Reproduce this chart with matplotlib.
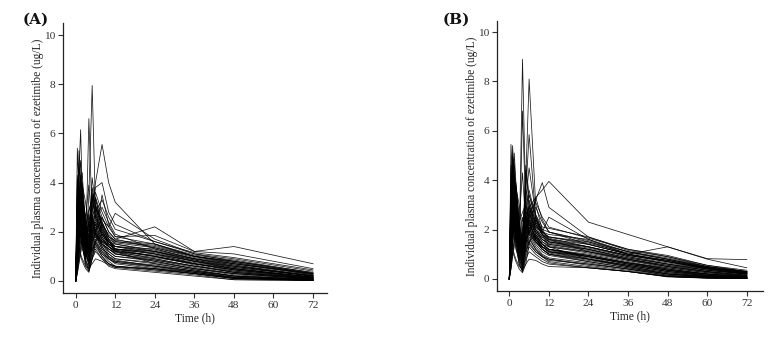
import matplotlib
matplotlib.use("Agg")
import matplotlib.pyplot as plt

times_a = [0, 0.5, 1, 1.5, 2, 3, 4, 5, 6, 8, 10, 12, 24, 36, 48, 72]
conc_a = [
    [0, 1.2, 2.5, 2.0, 1.6, 1.1, 3.5, 7.95, 3.0, 2.2, 1.6, 1.3, 1.0, 0.7, 0.45, 0.15],
    [0, 0.8, 1.9, 2.2, 1.8, 1.0, 6.6, 2.5, 1.9, 1.6, 1.4, 1.2, 0.9, 0.6, 0.35, 0.1],
    [0, 2.8, 4.5, 6.15, 3.5, 1.5, 2.4, 2.0, 1.8, 1.5, 1.3, 1.1, 0.8, 0.5, 0.3, 0.08],
    [0, 5.4, 3.6, 2.4, 1.7, 1.0, 2.8, 3.4, 2.6, 1.9, 1.5, 1.3, 1.2, 0.8, 0.55, 0.2],
    [0, 0.6, 1.2, 1.6, 1.8, 1.2, 2.0, 3.0, 4.0, 5.55, 4.0, 3.2, 1.5, 1.0, 0.7, 0.3],
    [0, 3.0, 5.3, 4.2, 3.0, 1.6, 2.2, 2.6, 2.0, 1.6, 1.5, 1.4, 1.1, 0.7, 0.4, 0.12],
    [0, 1.5, 2.8, 3.8, 4.4, 2.0, 1.5, 2.8, 3.4, 2.6, 2.0, 1.7, 2.2, 1.2, 1.4, 0.7],
    [0, 1.0, 2.2, 3.0, 3.5, 2.3, 2.0, 3.2, 3.6, 2.8, 2.2, 1.8, 1.85, 1.2, 1.1, 0.5],
    [0, 0.9, 1.8, 2.6, 3.0, 1.6, 1.3, 2.4, 2.9, 2.5, 2.2, 2.75, 1.7, 1.1, 0.8, 0.35],
    [0, 1.2, 2.6, 3.4, 3.0, 1.8, 2.4, 3.2, 3.8, 4.0, 2.8, 2.3, 1.6, 1.1, 0.9, 0.4],
    [0, 0.4, 1.2, 2.0, 2.6, 1.4, 0.9, 1.8, 2.2, 1.6, 1.2, 1.0, 0.8, 0.5, 0.3, 0.08],
    [0, 2.2, 3.6, 3.0, 2.4, 1.2, 0.7, 1.5, 2.0, 1.4, 1.0, 0.85, 0.6, 0.35, 0.15, 0.04],
    [0, 1.6, 2.9, 4.1, 3.2, 1.9, 1.1, 2.3, 2.7, 2.0, 1.6, 1.4, 1.3, 0.9, 0.7, 0.25],
    [0, 0.9, 1.5, 1.9, 2.1, 1.5, 1.0, 1.3, 1.6, 1.2, 0.9, 0.7, 0.5, 0.3, 0.1, 0.03],
    [0, 3.2, 4.6, 3.9, 2.8, 1.3, 0.8, 1.9, 2.6, 1.8, 1.4, 1.2, 1.0, 0.7, 0.45, 0.12],
    [0, 0.7, 1.9, 2.8, 3.3, 2.6, 1.7, 2.9, 3.4, 2.1, 1.5, 1.3, 1.1, 0.8, 0.6, 0.2],
    [0, 1.9, 3.3, 2.7, 2.0, 0.9, 0.5, 1.2, 1.6, 1.1, 0.8, 0.6, 0.45, 0.3, 0.12, 0.03],
    [0, 2.5, 3.9, 4.3, 3.6, 2.2, 1.6, 2.6, 3.0, 2.3, 1.9, 1.6, 1.4, 1.0, 0.75, 0.3],
    [0, 1.1, 2.4, 3.1, 2.5, 1.6, 1.2, 3.5, 2.9, 2.0, 1.6, 1.3, 1.15, 0.8, 0.5, 0.15],
    [0, 0.5, 0.9, 1.4, 1.9, 1.3, 0.6, 1.1, 1.5, 1.0, 0.7, 0.55, 0.4, 0.25, 0.05, 0.02],
    [0, 2.9, 4.0, 3.3, 2.6, 1.7, 1.4, 2.1, 2.5, 1.9, 1.6, 1.5, 1.2, 0.85, 0.6, 0.22],
    [0, 1.4, 2.1, 2.5, 2.2, 1.4, 1.9, 4.2, 3.1, 2.4, 1.8, 1.5, 1.25, 0.9, 0.65, 0.18],
    [0, 3.8, 4.2, 3.0, 2.2, 1.1, 0.8, 1.6, 1.9, 1.3, 1.1, 0.9, 0.7, 0.45, 0.2, 0.06],
    [0, 0.8, 1.6, 2.3, 2.9, 2.1, 1.3, 2.0, 2.4, 1.8, 1.4, 1.1, 0.9, 0.6, 0.35, 0.1],
    [0, 2.0, 3.0, 3.5, 2.9, 1.8, 1.5, 3.0, 3.3, 2.4, 1.8, 1.6, 1.45, 1.0, 0.8, 0.3],
    [0, 1.3, 2.7, 2.2, 1.7, 0.8, 0.4, 0.9, 1.3, 0.9, 0.6, 0.5, 0.35, 0.2, 0.05, 0.02],
    [0, 4.1, 3.4, 2.6, 1.9, 1.2, 1.0, 2.5, 2.1, 1.7, 1.4, 1.2, 1.05, 0.75, 0.5, 0.14],
    [0, 0.6, 1.4, 2.1, 2.5, 1.9, 1.1, 1.7, 2.1, 1.5, 1.1, 0.9, 0.75, 0.5, 0.25, 0.06],
    [0, 2.4, 3.4, 3.7, 3.1, 1.9, 1.3, 2.2, 2.8, 2.1, 1.7, 1.55, 1.35, 0.95, 0.7, 0.28],
    [0, 1.7, 2.6, 2.0, 1.5, 0.7, 0.5, 1.0, 1.4, 1.0, 0.7, 0.6, 0.5, 0.3, 0.1, 0.03],
    [0, 0.3, 0.8, 1.3, 1.7, 1.6, 1.2, 1.8, 2.3, 1.7, 1.3, 1.1, 0.85, 0.55, 0.3, 0.08],
    [0, 3.5, 4.8, 4.0, 3.0, 1.7, 1.2, 2.0, 2.4, 1.9, 1.5, 1.3, 1.1, 0.8, 0.5, 0.15],
    [0, 1.2, 2.0, 2.7, 2.4, 1.5, 1.0, 3.8, 3.0, 2.2, 1.7, 1.4, 1.2, 0.85, 0.55, 0.2],
    [0, 2.1, 2.9, 2.4, 1.8, 1.0, 0.7, 1.4, 1.8, 1.3, 0.95, 0.8, 0.65, 0.4, 0.15, 0.04],
    [0, 0.9, 2.0, 3.0, 3.6, 2.4, 1.6, 2.3, 2.7, 2.0, 1.6, 1.4, 1.2, 0.9, 0.65, 0.22],
    [0, 1.5, 2.3, 1.9, 1.4, 0.8, 0.6, 1.3, 1.7, 1.2, 0.9, 0.75, 0.55, 0.35, 0.12, 0.03],
    [0, 2.7, 3.8, 3.2, 2.5, 1.4, 1.0, 1.9, 2.3, 1.7, 1.4, 1.25, 1.0, 0.7, 0.45, 0.13],
    [0, 0.5, 1.1, 1.7, 2.2, 1.8, 1.4, 2.6, 3.1, 2.3, 1.8, 1.65, 1.5, 1.05, 0.85, 0.33],
    [0, 1.8, 3.1, 3.6, 3.0, 1.6, 0.9, 1.7, 2.0, 1.5, 1.2, 1.0, 0.85, 0.6, 0.4, 0.1],
    [0, 1.0, 1.7, 2.2, 1.9, 1.1, 0.8, 1.5, 1.9, 1.4, 1.0, 0.8, 0.6, 0.4, 0.2, 0.05],
    [0, 0.3, 0.7, 1.1, 1.5, 2.2, 2.9, 3.3, 2.6, 3.0, 2.4, 1.9, 1.3, 0.9, 0.6, 0.2],
    [0, 4.3, 3.0, 2.1, 1.5, 0.6, 0.4, 0.9, 1.2, 0.9, 0.7, 0.6, 0.45, 0.3, 0.1, 0.02],
    [0, 1.9, 3.6, 4.0, 3.3, 2.6, 3.9, 2.2, 1.9, 3.5, 2.3, 1.8, 1.5, 1.0, 0.75, 0.25],
    [0, 0.8, 1.3, 1.0, 0.8, 0.5, 0.35, 0.9, 1.6, 2.3, 1.7, 1.2, 0.7, 0.45, 0.2, 0.05],
    [0, 2.6, 4.1, 4.9, 3.7, 2.1, 1.4, 1.2, 1.6, 1.9, 1.5, 1.25, 1.0, 0.65, 0.35, 0.1],
    [0, 1.1, 2.3, 3.3, 2.0, 0.9, 1.6, 3.6, 2.8, 3.3, 2.6, 2.1, 1.6, 1.15, 0.95, 0.45],
    [0, 3.1, 2.4, 1.8, 1.3, 0.9, 2.7, 1.8, 1.5, 1.1, 0.9, 0.75, 0.6, 0.4, 0.2, 0.05],
    [0, 0.6, 1.8, 3.0, 3.9, 3.2, 2.1, 1.6, 2.0, 2.6, 2.0, 1.7, 1.35, 1.0, 0.8, 0.3],
    [0, 2.0, 1.4, 1.1, 0.9, 0.6, 0.5, 0.7, 0.9, 0.8, 0.65, 0.55, 0.5, 0.35, 0.15, 0.03],
    [0, 1.4, 3.0, 2.5, 4.0, 2.3, 1.2, 2.6, 1.9, 1.5, 1.3, 1.15, 0.95, 0.7, 0.5, 0.16],
]

times_b = [0, 0.5, 1, 1.5, 2, 3, 4, 5, 6, 8, 10, 12, 24, 36, 48, 60, 72]
conc_b = [
    [0, 1.0, 2.2, 2.8, 2.0, 1.2, 8.9, 3.0, 2.2, 1.7, 1.4, 1.2, 0.9, 0.6, 0.35, 0.2, 0.1],
    [0, 0.7, 1.5, 2.0, 1.8, 1.0, 1.4, 4.0, 8.1, 3.0, 2.0, 1.6, 1.1, 0.75, 0.45, 0.25, 0.12],
    [0, 1.2, 2.5, 3.0, 2.4, 1.3, 2.0, 3.5, 5.85, 2.5, 1.8, 1.5, 1.2, 0.8, 0.5, 0.3, 0.15],
    [0, 2.0, 3.2, 2.6, 1.8, 0.9, 6.8, 2.6, 1.9, 1.5, 1.2, 1.0, 0.8, 0.55, 0.3, 0.15, 0.06],
    [0, 5.45, 4.0, 3.0, 2.2, 1.2, 1.8, 2.6, 2.2, 1.7, 1.4, 1.3, 1.1, 0.8, 0.55, 0.35, 0.2],
    [0, 3.1, 5.4, 4.2, 3.0, 1.5, 1.2, 2.0, 2.4, 1.9, 1.6, 1.4, 1.2, 0.85, 0.6, 0.4, 0.22],
    [0, 2.0, 3.8, 5.1, 3.9, 2.2, 1.5, 2.6, 3.0, 2.2, 1.8, 1.6, 1.3, 0.95, 0.7, 0.45, 0.25],
    [0, 0.9, 1.8, 2.4, 2.7, 1.8, 1.5, 2.4, 2.9, 3.3, 3.6, 3.95, 2.3, 1.8, 1.3, 0.82, 0.78],
    [0, 1.1, 2.3, 3.0, 2.6, 1.5, 1.1, 2.0, 2.6, 3.2, 3.9, 2.9, 1.7, 1.2, 0.9, 0.55, 0.3],
    [0, 1.5, 2.6, 3.2, 2.8, 1.7, 1.3, 2.2, 2.6, 2.1, 1.9, 2.5, 1.6, 1.0, 1.3, 0.8, 0.45],
    [0, 2.4, 3.6, 3.0, 2.2, 1.0, 0.5, 1.8, 2.4, 1.6, 1.3, 1.1, 0.8, 0.5, 0.25, 0.1, 0.04],
    [0, 0.8, 1.9, 2.7, 3.3, 2.0, 0.8, 3.2, 4.5, 2.6, 1.9, 1.7, 1.4, 1.0, 0.75, 0.45, 0.25],
    [0, 3.8, 4.6, 3.5, 2.5, 1.1, 0.6, 1.4, 2.0, 1.5, 1.2, 1.0, 0.7, 0.45, 0.2, 0.08, 0.03],
    [0, 1.3, 2.2, 1.8, 1.3, 0.6, 0.3, 1.0, 1.5, 1.1, 0.9, 0.8, 0.55, 0.35, 0.12, 0.05, 0.02],
    [0, 2.9, 4.3, 3.7, 2.8, 1.6, 1.0, 2.5, 3.2, 2.3, 1.8, 1.55, 1.3, 0.9, 0.6, 0.35, 0.18],
    [0, 0.6, 1.3, 2.0, 2.5, 1.6, 0.9, 1.9, 2.5, 1.8, 1.4, 1.2, 0.95, 0.65, 0.4, 0.2, 0.08],
    [0, 4.3, 5.0, 3.9, 2.7, 1.4, 0.8, 2.0, 2.6, 2.0, 1.6, 1.4, 1.15, 0.8, 0.5, 0.3, 0.14],
    [0, 1.7, 3.0, 3.6, 3.0, 1.8, 1.2, 4.6, 3.4, 2.4, 1.9, 1.7, 1.5, 1.1, 0.85, 0.5, 0.28],
    [0, 2.2, 2.9, 2.3, 1.7, 0.8, 0.4, 1.2, 1.7, 1.2, 0.95, 0.8, 0.6, 0.4, 0.15, 0.06, 0.03],
    [0, 1.0, 2.4, 3.3, 3.9, 2.5, 1.4, 2.6, 2.9, 2.0, 1.6, 1.45, 1.2, 0.85, 0.6, 0.35, 0.2],
    [0, 3.3, 4.0, 3.1, 2.2, 1.2, 0.7, 1.6, 2.2, 1.7, 1.3, 1.1, 0.85, 0.55, 0.3, 0.12, 0.05],
    [0, 0.5, 1.1, 1.6, 2.0, 1.5, 0.8, 1.5, 2.1, 1.5, 1.2, 1.0, 0.75, 0.5, 0.25, 0.1, 0.04],
    [0, 2.6, 3.5, 4.2, 3.4, 2.0, 1.5, 3.6, 3.1, 2.3, 1.9, 1.8, 1.6, 1.1, 0.8, 0.45, 0.3],
    [0, 1.5, 2.6, 2.1, 1.5, 0.7, 0.35, 0.9, 1.3, 1.0, 0.8, 0.65, 0.45, 0.3, 0.08, 0.03, 0.02],
    [0, 3.0, 4.8, 4.1, 3.1, 1.7, 1.1, 2.3, 2.8, 2.1, 1.7, 1.5, 1.25, 0.9, 0.65, 0.4, 0.2],
    [0, 0.9, 1.6, 2.2, 2.6, 1.9, 1.2, 2.8, 3.6, 2.5, 2.0, 1.9, 1.5, 1.0, 0.7, 0.42, 0.22],
    [0, 4.0, 3.3, 2.5, 1.8, 1.0, 0.6, 1.5, 1.9, 1.4, 1.1, 0.95, 0.7, 0.45, 0.2, 0.08, 0.03],
    [0, 1.9, 3.4, 2.9, 2.3, 1.3, 0.9, 2.0, 2.5, 1.9, 1.5, 1.3, 1.05, 0.75, 0.5, 0.28, 0.12],
    [0, 2.5, 3.1, 2.6, 2.0, 1.1, 0.7, 1.7, 2.3, 1.6, 1.3, 1.2, 1.0, 0.7, 0.4, 0.2, 0.08],
    [0, 1.2, 2.0, 2.7, 3.1, 2.2, 1.6, 3.0, 3.4, 2.6, 2.1, 2.05, 1.7, 1.15, 0.9, 0.5, 0.3],
    [0, 3.6, 4.4, 3.4, 2.4, 1.3, 0.9, 1.9, 2.4, 1.8, 1.4, 1.2, 0.9, 0.6, 0.35, 0.15, 0.06],
    [0, 0.7, 1.7, 2.4, 2.9, 2.0, 1.0, 2.2, 2.7, 1.9, 1.5, 1.35, 1.1, 0.8, 0.55, 0.3, 0.15],
    [0, 2.1, 3.0, 2.5, 1.9, 0.9, 0.5, 1.3, 1.8, 1.3, 1.0, 0.85, 0.65, 0.4, 0.15, 0.05, 0.02],
    [0, 1.4, 2.8, 3.5, 2.8, 1.6, 1.3, 4.4, 3.0, 2.2, 1.8, 1.6, 1.4, 1.0, 0.75, 0.45, 0.24],
    [0, 2.8, 3.7, 3.0, 2.1, 1.0, 0.6, 1.4, 2.0, 1.6, 1.3, 1.1, 0.95, 0.65, 0.4, 0.2, 0.07],
    [0, 0.4, 1.0, 1.5, 1.9, 1.7, 1.1, 1.8, 2.3, 1.7, 1.3, 1.15, 0.9, 0.6, 0.35, 0.18, 0.06],
    [0, 3.4, 4.9, 4.5, 3.3, 1.8, 1.0, 2.1, 2.7, 2.0, 1.7, 1.5, 1.3, 0.95, 0.7, 0.42, 0.26],
    [0, 1.6, 2.4, 2.0, 1.6, 0.8, 0.45, 1.1, 1.6, 1.2, 0.9, 0.7, 0.5, 0.3, 0.1, 0.04, 0.02],
    [0, 2.3, 3.3, 3.8, 3.0, 1.7, 1.2, 2.4, 2.9, 2.2, 1.8, 1.7, 1.45, 1.05, 0.8, 0.48, 0.3],
    [0, 1.1, 2.1, 2.6, 2.2, 1.3, 0.7, 1.6, 2.1, 1.6, 1.2, 1.05, 0.8, 0.55, 0.3, 0.12, 0.05],
    [0, 0.4, 0.9, 1.3, 1.7, 2.3, 2.7, 3.0, 2.5, 2.9, 2.3, 1.9, 1.4, 1.0, 0.7, 0.4, 0.2],
    [0, 4.6, 3.3, 2.2, 1.5, 0.6, 0.3, 0.8, 1.1, 0.9, 0.7, 0.6, 0.45, 0.3, 0.1, 0.03, 0.02],
    [0, 1.8, 3.4, 3.9, 3.2, 2.4, 4.3, 2.1, 1.8, 3.3, 2.4, 1.9, 1.55, 1.1, 0.8, 0.5, 0.28],
    [0, 0.7, 1.1, 0.9, 0.7, 0.4, 0.25, 0.6, 1.4, 2.4, 1.8, 1.3, 0.8, 0.5, 0.2, 0.08, 0.03],
    [0, 2.5, 4.0, 4.7, 3.6, 2.0, 1.3, 1.1, 1.5, 1.8, 1.4, 1.2, 0.95, 0.65, 0.35, 0.15, 0.06],
    [0, 1.0, 2.2, 3.1, 1.9, 0.8, 1.5, 3.4, 2.7, 3.1, 2.5, 2.1, 1.65, 1.2, 0.95, 0.55, 0.35],
    [0, 3.0, 2.3, 1.7, 1.2, 0.8, 2.5, 1.7, 1.4, 1.1, 0.9, 0.75, 0.6, 0.4, 0.2, 0.08, 0.03],
    [0, 0.5, 1.6, 2.8, 3.7, 3.0, 2.0, 1.5, 1.9, 2.5, 1.9, 1.65, 1.3, 0.95, 0.75, 0.45, 0.25],
    [0, 1.9, 1.3, 1.0, 0.8, 0.5, 0.4, 0.6, 0.8, 0.75, 0.6, 0.5, 0.45, 0.3, 0.1, 0.04, 0.02],
    [0, 1.3, 2.9, 2.4, 3.8, 2.2, 1.1, 2.5, 1.8, 1.5, 1.3, 1.1, 0.9, 0.65, 0.45, 0.25, 0.1],
]

x_ticks = [0, 12, 24, 36, 48, 60, 72]
y_ticks = [0, 2, 4, 6, 8, 10]
panel_labels = ["(A)", "(B)"]
x_label = "Time (h)"
y_label = "Individual plasma concentration of ezetimibe (ug/L)"

plt.rcParams['font.family'] = ['Liberation Serif', 'DejaVu Serif']

fig = plt.figure(figsize=(7.74, 3.39), dpi=100)
W, H = 774.0, 339.0

def make_axes(left, right, top, bottom):
    return fig.add_axes([left / W, (H - bottom) / H, (right - left) / W, (bottom - top) / H])

ax_a = make_axes(63, 327, 23, 293)
ax_b = make_axes(497, 763, 21, 291)

panels = [
    (ax_a, times_a, conc_a, (-3.85, 76.25), (-0.49, 10.49), (23, 20)),
    (ax_b, times_b, conc_b, (-3.73, 76.9), (-0.49, 10.45), (443, 20)),
]

for i, (ax, tt, cc, xl, yl, lab_pos) in enumerate(panels):
    for row in cc:
        ax.plot(tt, row, color='black', lw=0.55, alpha=0.9)
    ax.set_xlim(*xl)
    ax.set_ylim(*yl)
    ax.set_xticks(x_ticks)
    ax.set_yticks(y_ticks)
    for s in ['top', 'right']:
        ax.spines[s].set_visible(False)
    for s in ['left', 'bottom']:
        ax.spines[s].set_linewidth(0.9)
        ax.spines[s].set_color('#222222')
    ax.tick_params(axis='both', direction='out', length=3.5, width=0.8,
                   colors='#333333', labelsize=8.2, pad=2)
    ax.set_xlabel(x_label, fontsize=8.3, color='#222222', labelpad=2)
    ax.set_ylabel(y_label, fontsize=8.3, color='#222222', labelpad=0)
    fig.text(lab_pos[0] / W, 1 - lab_pos[1] / H, panel_labels[i],
             fontsize=11, fontweight='bold', family='DejaVu Serif',
             ha='left', va='center', color='#111111')

fig.savefig('out.png', dpi=100)
